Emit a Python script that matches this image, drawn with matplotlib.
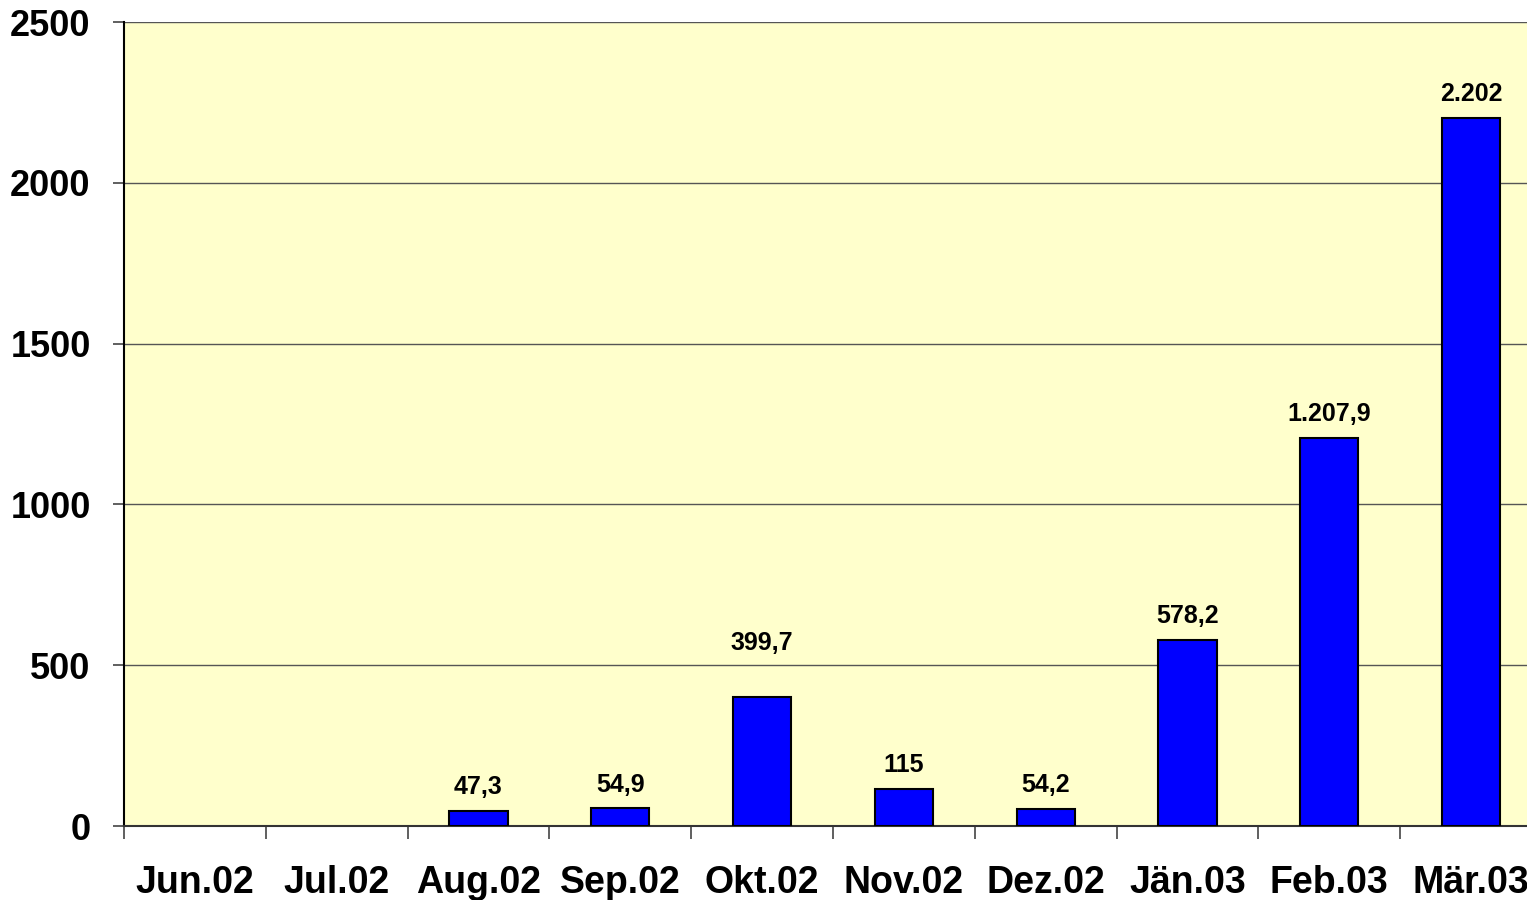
import numpy as np
import matplotlib
matplotlib.use("Agg")
import matplotlib.pyplot as plt

categories = ["Jun.02", "Jul.02", "Aug.02", "Sep.02", "Okt.02", "Nov.02",
              "Dez.02", "Jän.03", "Feb.03", "Mär.03"]
values = [np.nan, np.nan, 47.3, 54.9, 399.7, 115, 54.2, 578.2, 1207.9, 2202]
y_ticks = [0, 500, 1000, 1500, 2000, 2500]
extra_label_offset = {"Okt.02": 22}  # points


def de_fmt(v):
    if float(v).is_integer():
        return f"{int(v):,}".replace(",", ".")
    s = f"{v:,.1f}"
    return s.replace(",", "X").replace(".", ",").replace("X", ".")


plt.rcParams['font.family'] = ['Liberation Sans', 'DejaVu Sans']
plt.rcParams['font.weight'] = 'bold'

fig = plt.figure(figsize=(15.27, 9.0), dpi=100)
ax = fig.add_axes([124 / 1527, 74 / 900, 1418 / 1527, 804 / 900])
ax.set_facecolor("#FFFFCC")

x = np.arange(len(categories)) + 0.5
ax.bar(x, values, width=0.41, color="#0000FF", edgecolor="black",
       linewidth=1.5, zorder=3)

for xi, v, c in zip(x, values, categories):
    if np.isnan(v):
        continue
    ax.annotate(de_fmt(v), (xi, v), xytext=(0, 12 + extra_label_offset.get(c, 0)),
                textcoords="offset points", ha="center", va="baseline",
                fontsize=18, fontweight="bold", zorder=4)

ax.set_xlim(0, len(categories))
ax.set_ylim(0, 2500)
ax.set_yticks(y_ticks)
ax.set_yticklabels([str(t) for t in y_ticks], fontsize=26, fontweight="bold")
ax.yaxis.grid(True, color="#555555", linewidth=1.0, zorder=0)
ax.set_axisbelow(True)

ax.set_xticks(np.arange(len(categories) + 1))
ax.set_xticklabels([])
ax.set_xticks(x, minor=True)
ax.set_xticklabels(categories, minor=True, fontsize=27, fontweight="bold")
ax.tick_params(axis="x", which="major", length=9, width=1.2, color="#444444", direction="out")
ax.tick_params(axis="x", which="minor", length=0, pad=28)
ax.tick_params(axis="y", length=8, width=1.2, color="#444444", pad=16)

for s in ["top", "right"]:
    ax.spines[s].set_visible(False)
ax.spines["left"].set_color("black")
ax.spines["left"].set_linewidth(1.5)
ax.spines["bottom"].set_color("#333333")
ax.spines["bottom"].set_linewidth(1.5)

fig.savefig("out.png", dpi=100)
